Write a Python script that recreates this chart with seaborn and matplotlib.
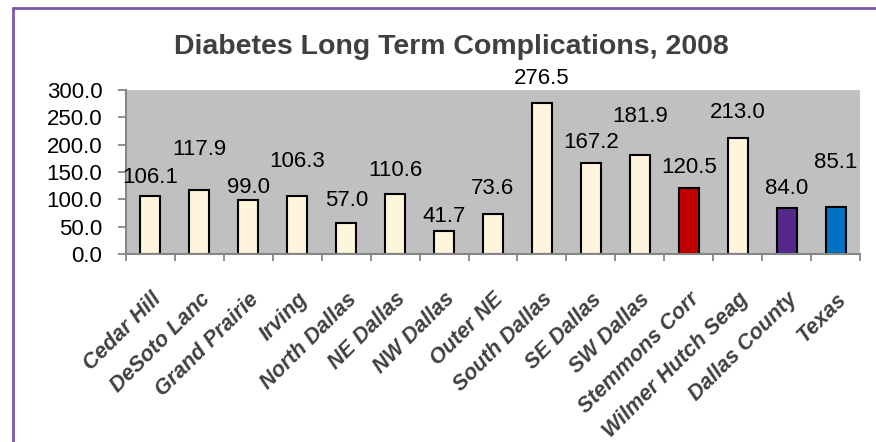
import numpy as np
import pandas as pd
import matplotlib
matplotlib.use("Agg")
import matplotlib.pyplot as plt
import seaborn as sns
from matplotlib.lines import Line2D
from matplotlib.ticker import FormatStrFormatter, FixedLocator

# Data
areas = ["Cedar Hill", "DeSoto Lanc", "Grand Prairie", "Irving", "North Dallas",
         "NE Dallas", "NW Dallas", "Outer NE", "South Dallas", "SE Dallas",
         "SW Dallas", "Stemmons Corr", "Wilmer Hutch Seag", "Dallas County", "Texas"]
rates = [106.1, 117.9, 99.0, 106.3, 57.0, 110.6, 41.7, 73.6, 276.5, 167.2,
         181.9, 120.5, 213.0, 84.0, 85.1]
y_ticks = [0, 50, 100, 150, 200, 250, 300]

# Styling: bar colours and how far each value label sits above its bar (data units)
cream, red, purple, blue = "#FFF5DC", "#C00000", "#55298A", "#0070C0"
bar_colors = [cream] * 11 + [red, cream, purple, blue]
label_lift = [33, 74, 23, 62, 40, 43, 26, 47, 45, 36, 70, 37, 45, 35, 83]

sns.set_style("white")
plt.rcParams["font.family"] = ["Liberation Sans", "DejaVu Sans"]

df = pd.DataFrame({"area": areas, "rate": rates})

fig = plt.figure(figsize=(8.76, 4.42), dpi=100)
ax = fig.add_axes([126 / 876, 1 - 254 / 442, (860 - 126) / 876, (254 - 90) / 442])
ax.set_facecolor("#C0C0C0")

sns.barplot(data=df, x="area", y="rate", hue="area", palette=bar_colors,
            dodge=False, legend=False, width=0.41, edgecolor="black",
            linewidth=1.5, saturation=1, ax=ax)

# value labels
for i, (v, lift) in enumerate(zip(rates, label_lift)):
    ax.text(i, v + lift, f"{v:.1f}", ha="center", va="center",
            fontsize=16, color="black", clip_on=False)

ax.set_xlim(-0.5, len(areas) - 0.5)
ax.set_ylim(0, 300)
ax.set_yticks(y_ticks)
ax.yaxis.set_major_formatter(FormatStrFormatter("%.1f"))
ax.tick_params(axis="y", direction="out", length=6, width=1.3, color="#868686",
               pad=11, labelsize=16, labelcolor="black", left=True)
ax.set_xlabel("")
ax.set_ylabel("")

# category boundaries get the tick marks, category centres get the labels
ax.xaxis.set_minor_locator(FixedLocator(np.arange(-0.5, len(areas), 1.0)))
ax.tick_params(axis="x", which="minor", direction="out", length=5, width=1.3,
               color="#868686", bottom=True)
ax.tick_params(axis="x", which="major", length=0, pad=25)
ax.set_xticks(range(len(areas)))
ax.set_xticklabels(areas, rotation=45, ha="right", va="top",
                   rotation_mode="anchor", fontsize=15.5, fontweight="bold",
                   fontstyle="italic", color="#404040")

for side in ["top", "right"]:
    ax.spines[side].set_visible(False)
for side in ["left", "bottom"]:
    ax.spines[side].set_color("#868686")
    ax.spines[side].set_linewidth(1.5)

fig.text(451 / 876, 1 - 47 / 442, "Diabetes Long Term Complications, 2008",
         ha="center", va="center", fontsize=20.5, fontweight="bold", color="#404040")

# purple frame (left and top edges visible in the crop)
frame = "#7B55A8"
fig.add_artist(Line2D([13 / 876, 13 / 876], [0, 1 - 8 / 442], color=frame, lw=2,
                      transform=fig.transFigure))
fig.add_artist(Line2D([13 / 876, 1], [1 - 8 / 442, 1 - 8 / 442], color=frame, lw=2,
                      transform=fig.transFigure))

fig.savefig("out.png", dpi=100)
